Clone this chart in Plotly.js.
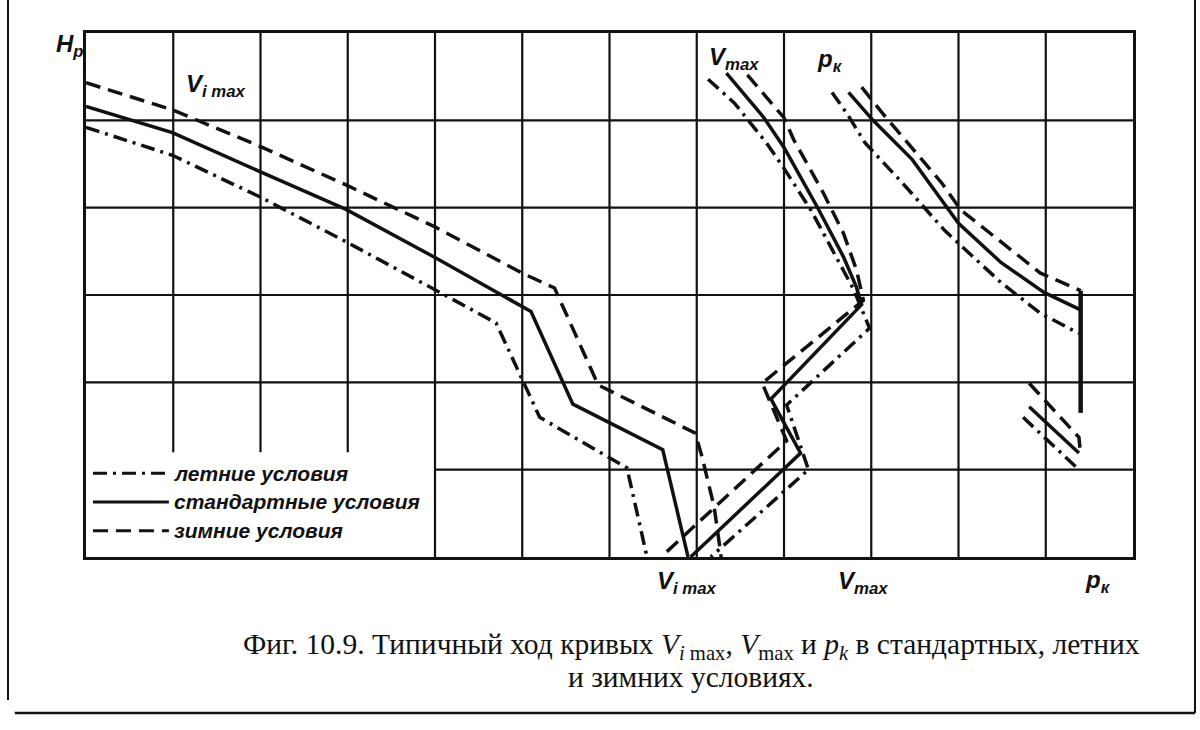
<!DOCTYPE html>
<html><head><meta charset="utf-8">
<script src="https://cdn.plot.ly/plotly-3.0.1.min.js"></script>
<style>html,body{margin:0;padding:0;background:#fff}#chart{width:1200px;height:730px}</style>
</head><body><div id="chart"></div>
<script>
// All values in grid units: x = 0..12 columns, y (H_p) = 0..6 rows
// V_i max curves
const viWinterX = [0.00, 0.99, 2.00, 2.98, 4.00, 5.00, 5.37, 5.87, 6.98, 7.06, 7.20, 7.28];
const viWinterY = [5.43, 5.12, 4.70, 4.26, 3.78, 3.25, 3.08, 1.97, 1.42, 1.15, 0.57, 0.00];
const viStdX    = [0.00, 0.99, 2.00, 2.98, 4.00, 5.10, 5.58, 6.61, 6.90];
const viStdY    = [5.16, 4.86, 4.41, 3.98, 3.43, 2.81, 1.75, 1.23, 0.00];
const viSumX    = [0.00, 0.99, 2.00, 2.98, 4.00, 4.70, 5.20, 6.20, 6.43];
const viSumY    = [4.92, 4.60, 4.12, 3.61, 3.06, 2.68, 1.60, 1.02, 0.00];
// V_max curves
const vmWinterX = [7.58, 8.00, 8.11, 8.45, 8.68, 8.83, 8.91, 7.75, 8.03, 6.59];
const vmWinterY = [5.52, 5.03, 4.78, 4.17, 3.71, 3.29, 2.94, 1.99, 1.33, 0.00];
const vmStdX    = [7.34, 7.77, 8.00, 8.38, 8.68, 8.83, 8.89, 7.85, 8.19, 6.93];
const vmStdY    = [5.54, 5.03, 4.69, 4.01, 3.44, 3.09, 2.89, 1.81, 1.19, 0.00];
const vmSumX    = [7.13, 7.43, 7.80, 8.00, 8.31, 8.57, 8.80, 8.98, 8.03, 8.28, 7.16];
const vmSumY    = [5.47, 5.20, 4.74, 4.45, 3.97, 3.48, 3.06, 2.62, 1.74, 1.00, 0.00];
// p_k curves (upper part)
const pkWinterX = [8.89, 9.13, 9.36, 9.81, 10.03, 10.49, 10.94, 11.40];
const pkWinterY = [5.38, 5.08, 4.81, 4.28, 3.97, 3.60, 3.25, 3.05];
const pkStdX    = [8.74, 9.02, 9.47, 10.00, 10.49, 10.98, 11.40];
const pkStdY    = [5.32, 5.00, 4.55, 3.82, 3.37, 3.03, 2.83];
const pkSumX    = [8.55, 8.72, 8.93, 9.36, 9.84, 10.49, 10.94, 11.38];
const pkSumY    = [5.32, 5.08, 4.74, 4.28, 3.74, 3.14, 2.79, 2.56];
// p_k common vertical part
const pkLimX = [11.40, 11.40];
const pkLimY = [3.05, 1.65];
// p_k curves (lower part)
const pkWinterLoX = [10.81, 11.38, 11.40];
const pkWinterLoY = [1.99, 1.37, 1.17];
const pkStdLoX    = [10.81, 11.38];
const pkStdLoY    = [1.72, 1.19];
const pkSumLoX    = [10.74, 11.38];
const pkSumLoY    = [1.60, 1.00];

const gridXs = [1,2,3,4,5,6,7,8,9,10,11];
const gridYs = [1,2,3,4,5];
const legendNames = ['летние условия', 'стандартные условия', 'зимние условия'];

const INK = '#111';
const DASH = '15px,8px';
const DASHDOT = '14px,6px,3px,6px';
const LW = 3.5;

function tr(x, y, dash, w) {
  return {x: x, y: y, type: 'scatter', mode: 'lines', showlegend: false, hoverinfo: 'skip',
          line: {color: INK, width: w || LW, dash: dash}};
}
const traces = [
  tr(viWinterX, viWinterY, DASH), tr(viStdX, viStdY, 'solid'), tr(viSumX, viSumY, DASHDOT),
  tr(vmWinterX, vmWinterY, DASH), tr(vmStdX, vmStdY, 'solid'), tr(vmSumX, vmSumY, DASHDOT),
  tr(pkWinterX, pkWinterY, DASH), tr(pkStdX, pkStdY, 'solid'), tr(pkSumX, pkSumY, DASHDOT),
  tr(pkLimX, pkLimY, 'solid', 4.5),
  tr(pkWinterLoX, pkWinterLoY, DASH), tr(pkStdLoX, pkStdLoY, 'solid'), tr(pkSumLoX, pkSumLoY, DASHDOT)
];

const shapes = [];
const gl = {color: INK, width: 2.2};
gridXs.forEach(g => {
  const y0 = g < 4 ? 1.2 : 0;
  shapes.push({type: 'line', xref: 'x', yref: 'y', x0: g, x1: g, y0: y0, y1: 6, line: gl, layer: 'below'});
});
gridYs.forEach(g => {
  const x0 = g === 1 ? 4 : 0;
  shapes.push({type: 'line', xref: 'x', yref: 'y', x0: x0, x1: 12, y0: g, y1: g, line: gl, layer: 'below'});
});
// legend samples
const legDash = [DASHDOT, 'solid', DASH];
const legY = [0.96, 0.63, 0.30];
legDash.forEach((d, i) => {
  shapes.push({type: 'line', xref: 'x', yref: 'y', x0: 0.08, x1: 0.95, y0: legY[i], y1: legY[i],
               line: {color: INK, width: 3, dash: d}});
});
// outer page frame
const fl = {color: INK, width: 2};
shapes.push({type: 'line', xref: 'paper', yref: 'paper', x0: -0.0745, x1: -0.0745, y0: 1.07, y1: -0.273, line: fl});
shapes.push({type: 'line', xref: 'paper', yref: 'paper', x0: 1.0592, x1: 1.0592, y0: 1.07, y1: -0.2977, line: fl});
shapes.push({type: 'line', xref: 'paper', yref: 'paper', x0: -0.068, x1: 1.0592, y0: -0.2977, y1: -0.2977, line: {color: INK, width: 2.5}});

const LF = {family: 'Liberation Sans, Arial, sans-serif', color: INK, size: 21, weight: 'bold', style: 'italic'};
const annotations = [];
legendNames.forEach((t, i) => {
  annotations.push({xref: 'x', yref: 'y', x: 0.99, y: legY[i], text: t, showarrow: false,
                    xanchor: 'left', yanchor: 'middle', font: LF});
});
const big = Object.assign({}, LF, {size: 24});
function lab(x, y, t, xr, yr) {
  annotations.push({xref: xr || 'x', yref: yr || 'y', x: x, y: y, text: t, showarrow: false,
                    xanchor: 'center', yanchor: 'middle', font: big});
}
lab(1.49, 5.40, 'V<sub>i max</sub>');
lab(7.43, 5.71, 'V<sub>max</sub>');
lab(8.53, 5.69, 'p<sub>к</sub>');
lab(6.89, -0.048, 'V<sub>i max</sub>', 'x', 'paper');
lab(8.91, -0.048, 'V<sub>max</sub>', 'x', 'paper');
lab(11.60, -0.046, 'p<sub>к</sub>', 'x', 'paper');
lab(-0.0153, 0.977, 'H<sub>р</sub>', 'paper', 'paper');

const CF = {family: 'Liberation Serif, Times New Roman, serif', size: 29.5, color: INK};
annotations.push({xref: 'paper', yref: 'paper', x: 0.578, y: -0.1698, xanchor: 'center', yanchor: 'middle', showarrow: false, font: CF,
  text: 'Фиг. 10.9. Типичный ход кривых <i>V</i><sub><i>i</i> max</sub>, <i>V</i><sub>max</sub> и <i>p<sub>k</sub></i> в стандартных, летних'});
annotations.push({xref: 'paper', yref: 'paper', x: 0.578, y: -0.229, xanchor: 'center', yanchor: 'middle', showarrow: false, font: CF,
  text: 'и зимних условиях.'});

const axisBase = {showgrid: false, zeroline: false, showticklabels: false, ticks: '', showline: true, mirror: true,
                  linecolor: INK, linewidth: 3, fixedrange: true};
const layout = {
  width: 1200, height: 730,
  margin: {l: 86, r: 67, t: 33, b: 173},
  paper_bgcolor: '#fff', plot_bgcolor: '#fff',
  xaxis: Object.assign({range: [0, 12]}, axisBase),
  yaxis: Object.assign({range: [0, 6]}, axisBase),
  shapes: shapes, annotations: annotations, showlegend: false
};
Plotly.newPlot('chart', traces, layout, {displayModeBar: false});
</script></body></html>
